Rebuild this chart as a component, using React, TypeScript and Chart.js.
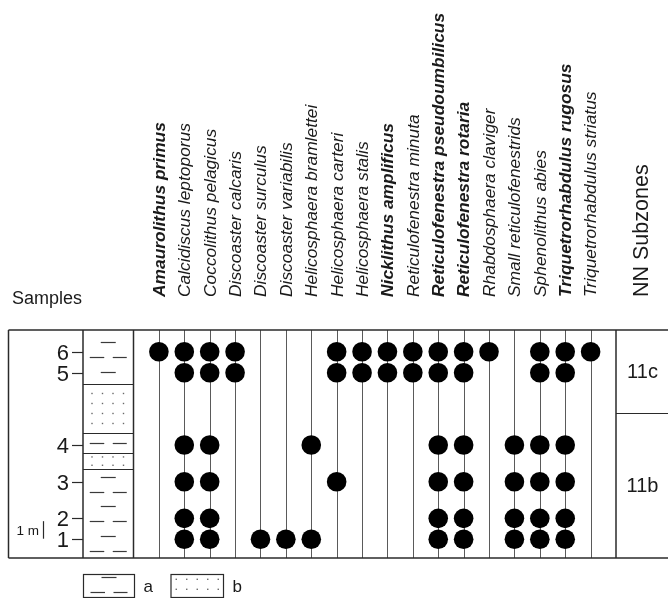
import React, { useEffect, useRef } from 'react';
import { Chart, registerables } from 'chart.js';

Chart.register(...registerables);

const species = [
  'Amaurolithus primus',
  'Calcidiscus leptoporus',
  'Coccolithus pelagicus',
  'Discoaster calcaris',
  'Discoaster surculus',
  'Discoaster variabilis',
  'Helicosphaera bramlettei',
  'Helicosphaera carteri',
  'Helicosphaera stalis',
  'Nicklithus amplificus',
  'Reticulofenestra minuta',
  'Reticulofenestra pseudoumbilicus',
  'Reticulofenestra rotaria',
  'Rhabdosphaera claviger',
  'Small reticulofenestrids',
  'Sphenolithus abies',
  'Triquetrorhabdulus rugosus',
  'Triquetrorhabdulus striatus',
];

const boldSpecies = [
  'Amaurolithus primus',
  'Nicklithus amplificus',
  'Reticulofenestra pseudoumbilicus',
  'Reticulofenestra rotaria',
  'Triquetrorhabdulus rugosus',
];

const sampleNames = ['1', '2', '3', '4', '5', '6'];
// height of each sample above the base of the section (m)
const sampleHeights = [1.07, 2.26, 4.35, 6.44, 10.56, 11.76];

// samples (by name) in which each species was found, same order as species
const occurrences: string[][] = [
  ['6'],
  ['1', '2', '3', '4', '5', '6'],
  ['1', '2', '3', '4', '5', '6'],
  ['5', '6'],
  ['1'],
  ['1'],
  ['1', '4'],
  ['3', '5', '6'],
  ['5', '6'],
  ['5', '6'],
  ['5', '6'],
  ['1', '2', '3', '4', '5', '6'],
  ['1', '2', '3', '4', '5', '6'],
  ['6'],
  ['1', '2', '3', '4'],
  ['1', '2', '3', '4', '5', '6'],
  ['1', '2', '3', '4', '5', '6'],
  ['6'],
];

// lithology: top of each layer (m), from the base upward
const lithoTops = [5.05, 6.0, 7.15, 9.9, 13.0];
const lithoTypes = ['a', 'b', 'a', 'b', 'a'];

// NN subzones: top of each zone (m)
const zoneNames = ['11b', '11c'];
const zoneTops = [8.28, 13.0];

const sectionTop = 13.0;
const scaleBar = [1.1, 2.1];

const legendKeys = ['a', 'b'];

const FONT = "'Liberation Sans', Arial, Helvetica, sans-serif";
const BORDER = '#2a2a2a';
const TEXT = '#1a1a1a';

function hline(ctx: CanvasRenderingContext2D, x1: number, x2: number, y: number) {
  ctx.beginPath();
  ctx.moveTo(x1, y);
  ctx.lineTo(x2, y);
  ctx.stroke();
}
function vline(ctx: CanvasRenderingContext2D, x: number, y1: number, y2: number) {
  ctx.beginPath();
  ctx.moveTo(x, y1);
  ctx.lineTo(x, y2);
  ctx.stroke();
}

function drawShale(ctx: CanvasRenderingContext2D, cx: number, yTop: number, yBot: number) {
  const h = yBot - yTop;
  const n = Math.max(1, Math.floor((h + 2) / 14.8));
  const sp = 14.8;
  const start = (yTop + yBot) / 2 - ((n - 1) * sp) / 2;
  ctx.save();
  ctx.strokeStyle = '#3a3a3a';
  ctx.lineWidth = 1.2;
  for (let k = 0; k < n; k++) {
    const yy = Math.round(start + k * sp) + 0.5;
    const single = n > 1 && k % 2 === 0;
    if (single) {
      hline(ctx, cx - 7.5, cx + 7.5, yy);
    } else {
      hline(ctx, cx - 18.5, cx - 4, yy);
      hline(ctx, cx + 4.5, cx + 18.5, yy);
    }
  }
  ctx.restore();
}

function drawSand(ctx: CanvasRenderingContext2D, cx: number, yTop: number, yBot: number, cols: number) {
  const h = yBot - yTop;
  const n = Math.max(2, Math.floor(h / 11));
  const sp = Math.min(10, h / n);
  const start = (yTop + yBot) / 2 - ((n - 1) * sp) / 2;
  const xs = 10.5;
  ctx.save();
  ctx.fillStyle = '#6a6a6a';
  for (let r = 0; r < n; r++) {
    for (let c = 0; c < cols; c++) {
      const px = cx + (c - (cols - 1) / 2) * xs;
      const py = start + r * sp;
      ctx.fillRect(px - 0.7, py - 0.7, 1.4, 1.4);
    }
  }
  ctx.restore();
}

const rangePlugin = {
  id: 'rangeChart',
  beforeDatasetsDraw(chart: any) {
    const { ctx, chartArea: ca, scales } = chart;
    const x = scales.x;
    const y = scales.y;
    const W = chart.width;
    const outerLeft = 8.5;
    const lithoLeft = 83;
    const lithoRight = x.getPixelForValue(0);
    const zoneLeft = x.getPixelForValue(species.length + 1);
    const lithoCx = (lithoLeft + lithoRight) / 2;
    const top = y.getPixelForValue(sectionTop);
    const bot = y.getPixelForValue(0);

    ctx.save();

    // species range lines
    ctx.strokeStyle = '#5a5a5a';
    ctx.lineWidth = 1;
    species.forEach((_, i) => {
      const px = Math.round(x.getPixelForValue(i + 1)) + 0.5;
      vline(ctx, px, top, bot);
    });

    // lithology column
    let base = 0;
    lithoTops.forEach((t, i) => {
      const yTop = y.getPixelForValue(t);
      const yBot = y.getPixelForValue(base);
      if (lithoTypes[i] === 'a') drawShale(ctx, lithoCx, yTop, yBot);
      else drawSand(ctx, lithoCx - 0.5, yTop, yBot, 4);
      base = t;
    });
    ctx.strokeStyle = BORDER;
    ctx.lineWidth = 1.2;
    lithoTops.slice(0, -1).forEach((t) => {
      const py = Math.round(y.getPixelForValue(t)) + 0.5;
      hline(ctx, lithoLeft, lithoRight, py);
    });

    // zones
    ctx.fillStyle = TEXT;
    ctx.font = `20px ${FONT}`;
    ctx.textAlign = 'center';
    ctx.textBaseline = 'middle';
    let zb = 0;
    zoneTops.forEach((t, i) => {
      const yTop = y.getPixelForValue(t);
      const yBot = y.getPixelForValue(zb);
      if (i < zoneTops.length - 1) {
        ctx.strokeStyle = BORDER;
        ctx.lineWidth = 1.2;
        hline(ctx, zoneLeft, W + 2, Math.round(yTop) + 0.5);
      }
      ctx.fillText(zoneNames[i], (zoneLeft + W) / 2 + 0.5, (yTop + yBot) / 2 + 1);
      zb = t;
    });

    // frame
    ctx.strokeStyle = BORDER;
    ctx.lineWidth = 1.5;
    hline(ctx, outerLeft, W + 2, top);
    hline(ctx, outerLeft, W + 2, bot);
    vline(ctx, outerLeft, top, bot);
    vline(ctx, lithoLeft, top, bot);
    vline(ctx, lithoRight, top, bot);
    vline(ctx, zoneLeft, top, bot);

    // sample ticks and labels
    ctx.lineWidth = 1.2;
    ctx.font = `22px ${FONT}`;
    ctx.textAlign = 'right';
    ctx.textBaseline = 'middle';
    sampleHeights.forEach((h, i) => {
      const py = Math.round(y.getPixelForValue(h)) + 0.5;
      hline(ctx, 72, lithoLeft, py);
      ctx.fillText(sampleNames[i], 69, py + 1);
    });

    // scale bar
    const sb1 = y.getPixelForValue(scaleBar[0]);
    const sb2 = y.getPixelForValue(scaleBar[1]);
    ctx.lineWidth = 1.2;
    vline(ctx, 43.5, sb2, sb1);
    ctx.font = `13.5px ${FONT}`;
    ctx.fillText('1 m', 39, (sb1 + sb2) / 2 + 1);

    // header texts
    ctx.textAlign = 'left';
    ctx.textBaseline = 'alphabetic';
    ctx.font = `18px ${FONT}`;
    ctx.fillText('Samples', 12, 304);

    species.forEach((name, i) => {
      const px = x.getPixelForValue(i + 1);
      const bold = boldSpecies.includes(name);
      ctx.save();
      ctx.translate(px + 1, ca.top - 33);
      ctx.rotate(-Math.PI / 2);
      ctx.font = `${bold ? 'bold ' : ''}italic 17.4px ${FONT}`;
      ctx.textAlign = 'left';
      ctx.textBaseline = 'middle';
      ctx.fillText(name, 0, 0);
      ctx.restore();
    });

    ctx.save();
    ctx.translate((zoneLeft + W) / 2 + 0.5, ca.top - 33);
    ctx.rotate(-Math.PI / 2);
    ctx.font = `21.5px ${FONT}`;
    ctx.textAlign = 'left';
    ctx.textBaseline = 'middle';
    ctx.fillText('NN Subzones', 0, 0);
    ctx.restore();

    // legend
    const ly1 = 574;
    const ly2 = 597;
    const boxes = [
      [83.5, 134.5],
      [171, 223.5],
    ];
    legendKeys.forEach((k, i) => {
      const [bx1, bx2] = boxes[i];
      ctx.strokeStyle = BORDER;
      ctx.lineWidth = 1.2;
      ctx.strokeRect(bx1, ly1 + 0.5, bx2 - bx1, ly2 - ly1);
      const cx = (bx1 + bx2) / 2;
      if (k === 'a') {
        ctx.save();
        ctx.strokeStyle = '#3a3a3a';
        hline(ctx, cx - 7.5, cx + 7.5, 577.5);
        hline(ctx, cx - 18.5, cx - 4, 592.5);
        hline(ctx, cx + 4.5, cx + 18.5, 592.5);
        ctx.restore();
      } else {
        ctx.save();
        ctx.fillStyle = '#6a6a6a';
        for (let r = 0; r < 2; r++) {
          for (let c = 0; c < 5; c++) {
            ctx.fillRect(cx + (c - 2) * 10.5 - 0.7, 579.3 + r * 10 - 0.7, 1.4, 1.4);
          }
        }
        ctx.restore();
      }
      ctx.fillStyle = TEXT;
      ctx.font = `17px ${FONT}`;
      ctx.textAlign = 'left';
      ctx.textBaseline = 'middle';
      ctx.fillText(k, bx2 + 9, 587);
    });

    ctx.restore();
  },
};

export default function App() {
  const ref = useRef<HTMLCanvasElement | null>(null);

  useEffect(() => {
    if (!ref.current) return;
    const points: { x: number; y: number }[] = [];
    species.forEach((_, i) => {
      occurrences[i].forEach((s) => {
        const idx = sampleNames.indexOf(s);
        points.push({ x: i + 1, y: sampleHeights[idx] });
      });
    });

    const chart = new Chart(ref.current, {
      type: 'scatter',
      data: {
        datasets: [
          {
            data: points,
            backgroundColor: '#000',
            borderColor: '#000',
            borderWidth: 0,
            pointRadius: 9.8,
            pointHoverRadius: 9.8,
          },
        ],
      },
      options: {
        responsive: false,
        animation: false,
        events: [],
        layout: { padding: { left: 133.5, right: 52, top: 330, bottom: 40 } },
        scales: {
          x: { type: 'linear', min: 0, max: species.length + 1, display: false },
          y: { type: 'linear', min: 0, max: sectionTop, display: false },
        },
        plugins: {
          legend: { display: false },
          tooltip: { enabled: false },
        },
      },
      plugins: [rangePlugin],
    } as any);

    return () => chart.destroy();
  }, []);

  return (
    <div style={{ position: 'fixed', left: 0, top: 0, width: 668, height: 598, background: '#fff' }}>
      <canvas ref={ref} width={668} height={598} style={{ display: 'block' }} />
    </div>
  );
}
